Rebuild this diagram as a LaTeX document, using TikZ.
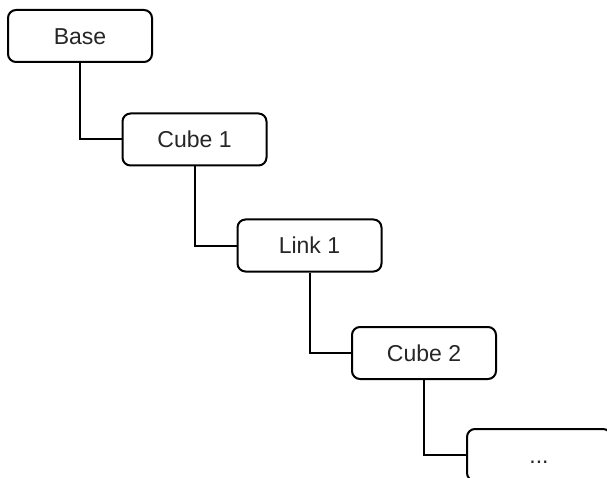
\documentclass[tikz,border=0pt]{standalone}
\usepackage{fontspec}
\setmainfont{Liberation Sans}
\begin{document}
\begin{tikzpicture}[x=1pt,y=-1pt,
  box/.style={draw=black, line width=2pt, rounded corners=8pt, minimum width=144pt, minimum height=52pt, inner sep=0pt, text height=20pt, text depth=3.4pt, fill=white, font=\fontsize{23}{27}\selectfont, text=black!85},
  link/.style={draw=black, line width=2pt}]
\useasboundingbox (0,0) rectangle (607,478);
\clip (0,0) rectangle (607,478);
\node[box] (base) at (80,36) {Base};
\node[box] (cube1) at (194.5,139.5) {Cube 1};
\node[box] (link1) at (309.5,245.5) {Link 1};
\node[box] (cube2) at (424,353) {Cube 2};
\node[box] (more) at (539,455) {...};
\draw[link] (base.south) |- (cube1.west);
\draw[link] (cube1.south) |- (link1.west);
\draw[link] (link1.south) |- (cube2.west);
\draw[link] (cube2.south) |- (more.west);
\end{tikzpicture}
\end{document}
